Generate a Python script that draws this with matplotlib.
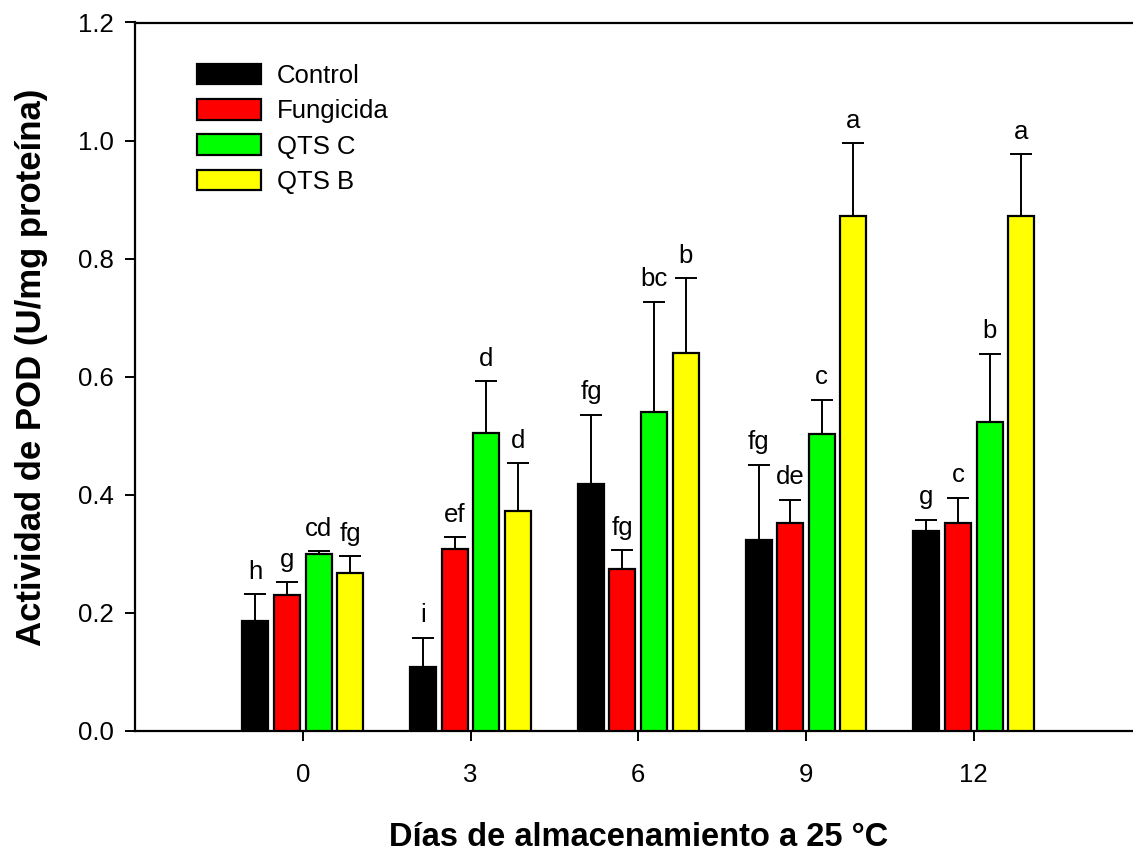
import matplotlib
matplotlib.use("Agg")
import matplotlib.pyplot as plt
import numpy as np

plt.rcParams['font.family'] = ['Liberation Sans', 'DejaVu Sans']

days = ["0", "3", "6", "9", "12"]
series = ["Control", "Fungicida", "QTS C", "QTS B"]
colors = ["#000000", "#FF0000", "#00FF00", "#FFFF00"]

control = [0.187, 0.108, 0.419, 0.323, 0.338]
fungicida = [0.230, 0.308, 0.274, 0.352, 0.353]
qts_c = [0.299, 0.505, 0.541, 0.503, 0.523]
qts_b = [0.268, 0.372, 0.640, 0.872, 0.872]

control_err = [0.045, 0.050, 0.117, 0.128, 0.020]
fungicida_err = [0.022, 0.020, 0.032, 0.040, 0.042]
qts_c_err = [0.006, 0.088, 0.186, 0.058, 0.116]
qts_b_err = [0.028, 0.082, 0.127, 0.124, 0.105]

control_letters = ["h", "i", "fg", "fg", "g"]
fungicida_letters = ["g", "ef", "fg", "de", "c"]
qts_c_letters = ["cd", "d", "bc", "c", "b"]
qts_b_letters = ["fg", "d", "b", "a", "a"]

values = [control, fungicida, qts_c, qts_b]
errors = [control_err, fungicida_err, qts_c_err, qts_b_err]
letters = [control_letters, fungicida_letters, qts_c_letters, qts_b_letters]

W, H = 1133, 852
fig = plt.figure(figsize=(W / 100, H / 100), dpi=100)
left, right, top, bottom = 135, 1141.5, 22.5, 731
ax = fig.add_axes([left / W, (H - bottom) / H, (right - left) / W, (bottom - top) / H])

x = np.arange(len(days))
pitch = 0.188
width = 0.155
offsets = [-1.5 * pitch, -0.5 * pitch, 0.5 * pitch, 1.5 * pitch]

for i in range(4):
    xs = x + offsets[i]
    ax.bar(xs, values[i], width=width, color=colors[i], edgecolor="black",
           linewidth=1.6, label=series[i], zorder=3)
    ax.errorbar(xs, values[i], yerr=[np.zeros(len(x)), errors[i]], fmt="none",
                ecolor="black", elinewidth=1.4, capsize=8, capthick=1.4, zorder=2)
    for j in range(len(x)):
        ax.text(xs[j], values[i][j] + errors[i][j] + 0.026, letters[i][j],
                ha="center", va="baseline", fontsize=18.5, zorder=4)

ax.set_xlim(-1.0, 5.0)
ax.set_ylim(0, 1.2)
ax.set_xticks(x)
ax.set_xticklabels(days)
ax.set_yticks(np.arange(0, 1.21, 0.2))
ax.set_yticklabels([f"{v:.1f}" for v in np.arange(0, 1.21, 0.2)])
ax.tick_params(axis="both", direction="out", length=7, width=1.4, labelsize=18.5, pad=8)
ax.tick_params(axis="x", pad=16)
for s in ["left", "bottom", "top"]:
    ax.spines[s].set_linewidth(1.6)
ax.spines["right"].set_visible(False)

ax.set_xlabel("Días de almacenamiento a 25 °C", fontsize=23.5, fontweight="bold", labelpad=25)
ax.set_ylabel("Actividad de POD (U/mg proteína)", fontsize=25, fontweight="bold")
ax.yaxis.set_label_coords(-0.086, 0.513)

leg = ax.legend(loc="upper left", bbox_to_anchor=((197 - left) / (right - left), (bottom - 64) / (bottom - top)),
                frameon=False, fontsize=18.5, handlelength=2.5, handleheight=0.85,
                labelspacing=0.43, handletextpad=0.6, borderpad=0, borderaxespad=0)
for p in leg.get_patches():
    p.set_linewidth(1.6)

fig.savefig("out.png", dpi=100)
